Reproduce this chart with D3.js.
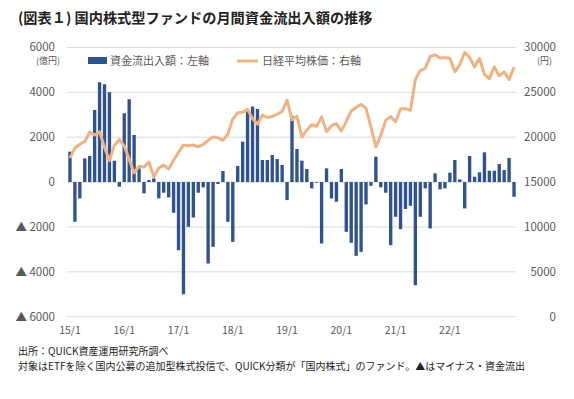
<!DOCTYPE html>
<html>
<head>
<meta charset="utf-8">
<script src="https://cdn.jsdelivr.net/npm/d3@7/dist/d3.min.js"></script>
<style>
  body { margin: 0; background: #fff; }
  svg { display: block; font-family: "Noto Sans CJK JP", "Noto Sans", sans-serif; }
</style>
</head>
<body>
<svg id="chart" width="574" height="399"></svg>
<script>
// monthly, 2015/1 .. 2022/7
var startYear = 2015, startMonth = 1;
var flows = [
  1354, -1771, -729, 1056, 1160, 3214, 4449, 4360, 4003, 950, -208, 3065,
  3690, 2098, 610, -506, 89, 164, -729, -476, -684, -1369, -3035, -5000,
  -1994, -1577, -476, -238, -3631, -2887, -89, 491, -1771, -2664, 714, 1800,
  3140, 3363, 3259, 982, 982, 1205, 1027, 759, -804, 2950, 1473, 952,
  580, -283, -30, -2738, 610, -729, -878, 580, -2217, -2708, -3288, -3110,
  -997, -164, 1131, -238, -476, -2812, -1548, -2098, -1200, -1056, -4597, -1548,
  -283, -2068, 387, -327, -283, 417, 982, 119, -1175, 1161, 238, 432,
  1324, 506, 506, 804, 536, 1071, -655
];
var nikkei = [
  17674, 18797, 19206, 19520, 20563, 20236, 20585, 18890, 17388, 19083, 19747, 19033,
  17518, 16026, 16758, 16666, 17234, 15575, 16569, 16887, 16449, 17425, 18308, 19114,
  19041, 19118, 18909, 19197, 19650, 20033, 19925, 19646, 20356, 22011, 22724, 22764,
  23098, 22068, 21454, 22467, 22201, 22304, 22553, 22865, 24120, 21920, 22351, 20014,
  20773, 21385, 21205, 22258, 20601, 21275, 21521, 20704, 21755, 22927, 23293, 23656,
  23205, 21142, 18917, 20193, 21877, 22288, 21710, 23139, 23185, 22977, 26433, 27444,
  27663, 28966, 29178, 28812, 28860, 28791, 27283, 28089, 29452, 28892, 27821, 28791,
  27001, 26526, 27821, 26847, 27279, 26393, 27801
];
var leftTicks = [6000, 4000, 2000, 0, -2000, -4000, -6000];
var rightTicks = [30000, 25000, 20000, 15000, 10000, 5000, 0];
var xLabels = ["15/1", "16/1", "17/1", "18/1", "19/1", "20/1", "21/1", "22/1"];
var xLabelEvery = 11; // the original axis puts a label on every 11th category

var svg = d3.select("#chart");
var textColor = "#595959";

var x = d3.scaleBand().domain(d3.range(flows.length)).range([67.5, 516.5]).paddingInner(0.32).paddingOuter(0.16);
var yL = d3.scaleLinear().domain([-6000, 6000]).range([316.7, 47.4]);
var yR = d3.scaleLinear().domain([0, 30000]).range([316.7, 47.4]);
var cx = function(i) { return x(i) + x.bandwidth() / 2; };

svg.append("text")
  .attr("x", 18).attr("y", 23)
  .attr("font-size", 14.2).attr("font-weight", "bold").attr("fill", "#222")
  .text("(図表１) 国内株式型ファンドの月間資金流出入額の推移");

// grid lines
svg.append("g").selectAll("line").data(leftTicks).enter().append("line")
  .attr("x1", 67).attr("x2", 516)
  .attr("y1", function(d) { return yL(d) }).attr("y2", function(d) { return yL(d) })
  .attr("stroke", "#d9d9d9").attr("stroke-width", 1);

// left axis labels
svg.append("g").attr("font-size", 11.5).attr("fill", textColor).attr("text-anchor", "end")
  .selectAll("text").data(leftTicks).enter().append("text")
  .attr("x", 55).attr("y", function(d) { return yL(d) + 4 })
  .text(function(d) { return d < 0 ? "▲ " + (-d) : d; });
svg.append("text").attr("x", 60).attr("y", 64).attr("font-size", 9).attr("fill", textColor)
  .attr("text-anchor", "end").text("(億円)");

// right axis labels
svg.append("g").attr("font-size", 11.5).attr("fill", textColor).attr("text-anchor", "end")
  .selectAll("text").data(rightTicks).enter().append("text")
  .attr("x", 556).attr("y", function(d) { return yR(d) + 4 })
  .text(function(d) { return d; });
svg.append("text").attr("x", 552).attr("y", 64).attr("font-size", 9).attr("fill", textColor)
  .attr("text-anchor", "end").text("(円)");

// bars
svg.append("g").attr("fill", "#2F5290").selectAll("rect").data(flows).enter().append("rect")
  .attr("x", function(d, i) { return x(i) })
  .attr("width", x.bandwidth())
  .attr("y", function(d) { return yL(Math.max(0, d)) })
  .attr("height", function(d) { return Math.abs(yL(d) - yL(0)) });

// nikkei line
var line = d3.line().x(function(d, i) { return cx(i) }).y(function(d) { return yR(d) });
svg.append("path").datum(nikkei)
  .attr("fill", "none").attr("stroke", "#F1B283").attr("stroke-width", 3)
  .attr("stroke-linejoin", "round").attr("d", line);

// x labels
svg.append("g").attr("font-size", 10.5).attr("fill", textColor).attr("text-anchor", "middle")
  .selectAll("text").data(xLabels).enter().append("text")
  .attr("x", function(d, k) { return cx(k * xLabelEvery) }).attr("y", 334)
  .text(function(d) { return d; });

// legend
var legend = svg.append("g").attr("font-size", 11).attr("fill", textColor);
legend.append("rect").attr("x", 88).attr("y", 57).attr("width", 19).attr("height", 7).attr("fill", "#2F5290");
legend.append("text").attr("x", 110).attr("y", 65).text("資金流出入額：左軸");
legend.append("line").attr("x1", 237).attr("x2", 258).attr("y1", 61).attr("y2", 61)
  .attr("stroke", "#F1B283").attr("stroke-width", 3);
legend.append("text").attr("x", 262).attr("y", 65).text("日経平均株価：右軸");

// notes
var notes = svg.append("g").attr("font-size", 10).attr("fill", "#222");
notes.append("text").attr("x", 18).attr("y", 355).text("出所：QUICK資産運用研究所調べ");
notes.append("text").attr("x", 18).attr("y", 370).text("対象はETFを除く国内公募の追加型株式投信で、QUICK分類が「国内株式」のファンド。▲はマイナス・資金流出");
</script>
</body>
</html>
